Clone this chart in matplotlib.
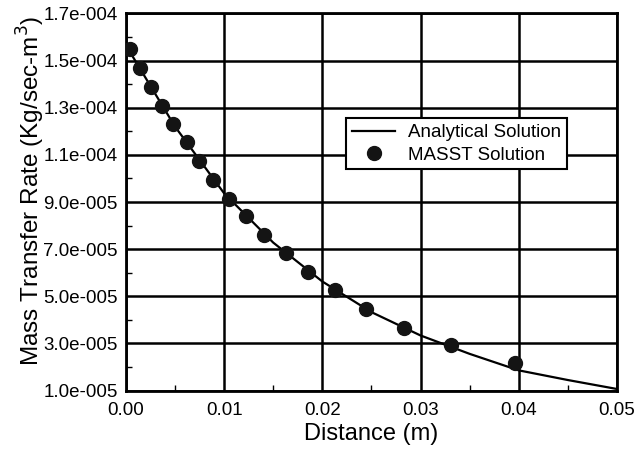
import numpy as np
import matplotlib
matplotlib.use('Agg')
import matplotlib.pyplot as plt
from matplotlib.ticker import MultipleLocator

plt.rcParams['font.family'] = ['Liberation Sans', 'DejaVu Sans']

# analytical solution
x_analytical = [0.0, 0.005, 0.01, 0.015, 0.02, 0.025, 0.03, 0.035, 0.04, 0.045, 0.05]
y_analytical = [1.565e-4, 1.22e-4, 9.37e-5, 7.28e-5, 5.63e-5, 4.33e-5, 3.34e-5,
                2.56e-5, 1.86e-5, 1.45e-5, 1.07e-5]

# MASST solution points
x_masst = [0.00041, 0.00142, 0.00251, 0.00369, 0.00481, 0.00617, 0.00746, 0.00888,
           0.01051, 0.01221, 0.01407, 0.01625, 0.01858, 0.02129, 0.02449, 0.02831,
           0.03313, 0.03964]
y_masst = [1.548e-4, 1.467e-4, 1.389e-4, 1.309e-4, 1.231e-4, 1.153e-4, 1.075e-4, 9.93e-5,
           9.12e-5, 8.40e-5, 7.60e-5, 6.84e-5, 6.04e-5, 5.26e-5, 4.45e-5, 3.66e-5,
           2.92e-5, 2.17e-5]

xticks = [0.0, 0.01, 0.02, 0.03, 0.04, 0.05]
xtick_labels = ['0.00', '0.01', '0.02', '0.03', '0.04', '0.05']
yticks = [1.0e-5, 3.0e-5, 5.0e-5, 7.0e-5, 9.0e-5, 1.1e-4, 1.3e-4, 1.5e-4, 1.7e-4]
ytick_labels = ['1.0e-005', '3.0e-005', '5.0e-005', '7.0e-005', '9.0e-005',
                '1.1e-004', '1.3e-004', '1.5e-004', '1.7e-004']

fig = plt.figure(figsize=(6.36, 4.49), dpi=100)
ax = fig.add_axes([0.198, 0.130, 0.772, 0.840])

ax.plot(x_analytical, y_analytical, color='black', lw=1.6, label='Analytical Solution', zorder=3)
ax.plot(x_masst, y_masst, 'o', color='#141414', markersize=10, label='MASST Solution', zorder=4)

ax.set_xlim(0, 0.05)
ax.set_ylim(1.0e-5, 1.7e-4)
ax.set_xticks(xticks)
ax.set_xticklabels(xtick_labels)
ax.set_yticks(yticks)
ax.set_yticklabels(ytick_labels)
ax.xaxis.set_minor_locator(MultipleLocator(0.005))
ax.yaxis.set_minor_locator(MultipleLocator(1e-5))

ax.grid(True, which='major', color='black', lw=1.8)
ax.tick_params(which='major', length=0, labelsize=13.5)
ax.tick_params(axis='y', pad=6)
ax.tick_params(axis='x', pad=8)
ax.tick_params(which='minor', direction='in', length=4, width=1, color='black')
for s in ax.spines.values():
    s.set_linewidth(2)
    s.set_color('black')

ax.set_xlabel('Distance (m)', fontsize=17, labelpad=3)
ax.set_ylabel('Mass Transfer Rate (Kg/sec-m$^3$)', fontsize=17.5)
ax.yaxis.set_label_coords(-0.160, 0.53)

leg = ax.legend(loc='upper left', bbox_to_anchor=(0.449, 0.722), fontsize=13.5,
                frameon=True, fancybox=False, edgecolor='black', framealpha=1,
                borderpad=0.3, labelspacing=0.3, handlelength=2.3, handletextpad=0.7,
                borderaxespad=0)
leg.get_frame().set_linewidth(1.5)

fig.savefig('out.png', dpi=100)
